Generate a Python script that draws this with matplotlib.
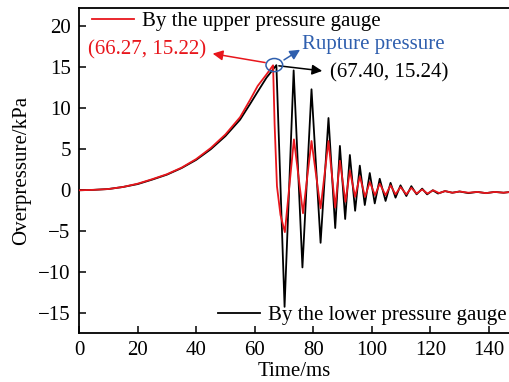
import matplotlib
matplotlib.use('Agg')
import matplotlib.pyplot as plt
from matplotlib.patches import Ellipse

plt.rcParams['font.family'] = ['Liberation Serif', 'DejaVu Serif']

# upper pressure gauge (red)
t_upper = [0, 5, 10, 15, 20, 25, 30, 35, 40, 45, 50, 55, 58.4, 61, 64, 66.27,
           66.8, 67.6, 68.8, 70.3, 73.4, 76.5, 79.4, 82.5, 85.2, 87.5, 89.1,
           91.0, 92.5, 94.3, 95.9, 97.7, 99.3, 101.1, 102.7, 104.7, 106.4,
           108.1, 109.8, 111.8, 113.5, 115.3, 117.2, 119.0, 121.0, 123.0,
           125.0, 127.5, 130.0, 133.0, 136.0, 139.0, 142.0, 145.0, 147.5]
p_upper = [0.0, 0.05, 0.15, 0.4, 0.8, 1.35, 1.95, 2.75, 3.8, 5.15, 6.8, 8.9,
           11.0, 12.7, 14.1, 15.22,
           8.0, 0.5, -3.0, -5.1, 6.2, -2.8, 6.0, -2.2, 6.0, -2.1, 3.6,
           -1.4, 2.4, -0.8, 1.7, -0.8, 1.0, -0.6, 0.8, -0.6, 0.6,
           -0.5, 0.4, -0.5, 0.3, -0.4, 0.1, -0.4, 0.0, -0.35,
           -0.1, -0.3, -0.15, -0.3, -0.2, -0.35, -0.2, -0.3, -0.2]

# lower pressure gauge (black)
t_lower = [0, 5, 10, 15, 20, 25, 30, 35, 40, 45, 50, 55, 58.4, 61, 64, 67.40,
           70.2, 73.3, 76.3, 79.4, 82.5, 85.2, 87.5, 89.1, 90.9, 92.5, 94.3,
           95.9, 97.6, 99.3, 101.0, 102.7, 104.7, 106.4, 108.1, 109.8, 111.8,
           113.5, 115.3, 117.2, 118.9, 120.8, 122.6, 125.0, 127.5, 130.0,
           133.0, 136.0, 139.0, 142.0, 145.0, 147.5]
p_lower = [0.0, 0.05, 0.15, 0.4, 0.75, 1.3, 1.9, 2.7, 3.7, 5.0, 6.6, 8.6,
           10.5, 12.0, 13.7, 15.24,
           -14.2, 14.6, -9.4, 12.3, -6.4, 8.8, -4.6, 5.4, -3.5, 4.3, -2.5,
           3.0, -1.8, 2.1, -1.6, 1.4, -1.3, 0.9, -0.9, 0.6, -0.7,
           0.5, -0.5, 0.2, -0.5, 0.0, -0.4, -0.1, -0.3, -0.15,
           -0.35, -0.2, -0.35, -0.2, -0.3, -0.2]

red = '#e8161c'
blue = '#2f5fae'
fs = 15

fig = plt.figure(figsize=(5.1, 3.82), dpi=100)
ax = fig.add_axes([0.155, 0.128, 0.845, 0.851])

l_up, = ax.plot(t_upper, p_upper, color=red, lw=1.3, zorder=3,
                solid_joinstyle='round', label='By the upper pressure gauge')
l_low, = ax.plot(t_lower, p_lower, color='black', lw=1.3, zorder=2,
                 solid_joinstyle='round', label='By the lower pressure gauge')

# rupture point: ellipse, arrows and value labels
ax.add_patch(Ellipse((66.7, 15.25), 5.7, 1.6, fill=False, ec=blue, lw=1.1, zorder=4))
ax.annotate('', xy=(44.7, 16.7), xytext=(64.5, 15.5),
            arrowprops=dict(arrowstyle='-|>', color=red, lw=1.1, mutation_scale=15))
ax.text(3.0, 17.1, '(66.27, 15.22)', color=red, fontsize=fs, va='center', ha='left')
ax.annotate('', xy=(84.0, 14.5), xytext=(67.3, 15.2),
            arrowprops=dict(arrowstyle='-|>', color='black', lw=1.1, mutation_scale=15))
ax.text(85.6, 14.3, '(67.40, 15.24)', color='black', fontsize=fs, va='center', ha='left')
ax.annotate('', xy=(76.3, 17.3), xytext=(69.2, 15.7),
            arrowprops=dict(arrowstyle='-|>', color=blue, lw=1.1, mutation_scale=15))
ax.text(76.1, 17.8, 'Rupture pressure', color=blue, fontsize=fs, va='center', ha='left')

leg1 = ax.legend(handles=[l_up], loc='upper left', bbox_to_anchor=(0.03, 0.99),
                 frameon=False, fontsize=fs, handlelength=2.0, handletextpad=0.4,
                 borderpad=0, borderaxespad=0)
ax.add_artist(leg1)
ax.legend(handles=[l_low], loc='lower right', bbox_to_anchor=(0.993, 0.025),
          frameon=False, fontsize=fs, handlelength=2.0, handletextpad=0.4,
          borderpad=0, borderaxespad=0)

ax.set_xlim(0, 147.2)
ax.set_ylim(-17.4, 22.2)
ax.set_xticks([0, 20, 40, 60, 80, 100, 120, 140])
ax.set_yticks([-15, -10, -5, 0, 5, 10, 15, 20])
ax.set_yticklabels(['\u221215', '\u221210', '\u22125', '0', '5', '10', '15', '20'])
ax.tick_params(direction='in', length=5, width=1.1, labelsize=fs, pad=6)
for s in ax.spines.values():
    s.set_linewidth(1.3)
ax.spines['right'].set_visible(False)
ax.set_xlabel('Time/ms', fontsize=fs, labelpad=1)
ax.set_ylabel('Overpressure/kPa', fontsize=fs, labelpad=5)

fig.savefig('out.png', dpi=100)
